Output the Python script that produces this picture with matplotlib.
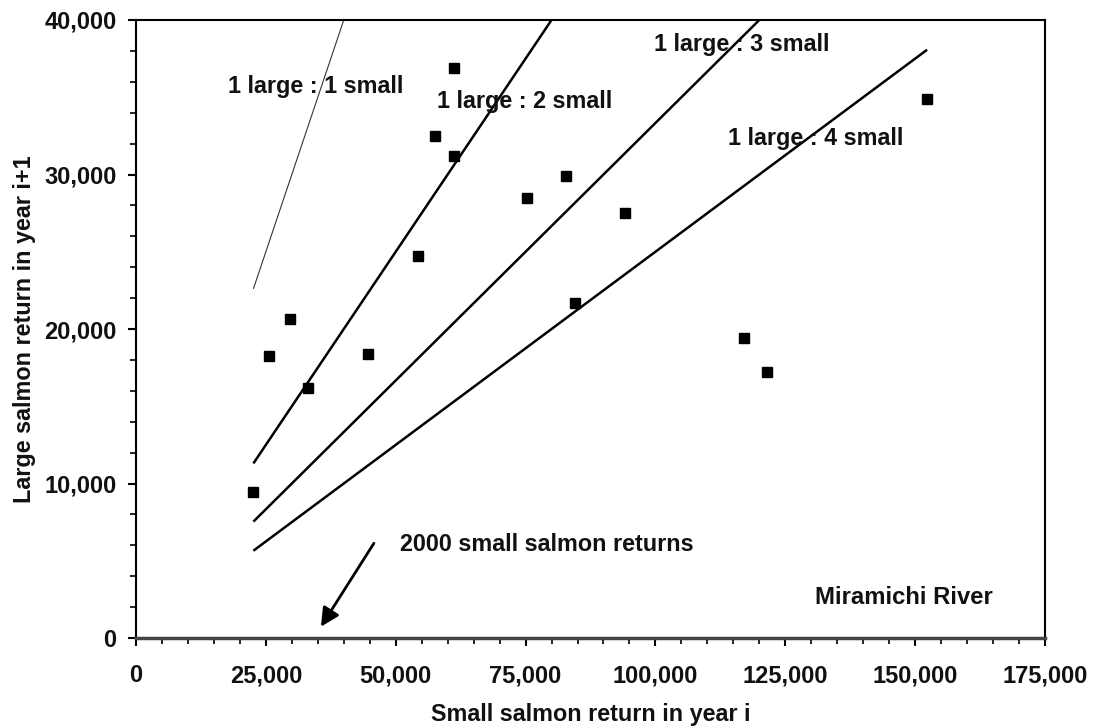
import matplotlib
matplotlib.use("Agg")
import matplotlib.pyplot as plt
import matplotlib.ticker as mticker
import numpy as np

# small salmon return in year i vs large salmon return in year i+1
small = [22600, 25600, 29700, 33200, 44600, 54300, 57500, 61200, 61300,
         75200, 82800, 84500, 94200, 117000, 121500, 152300]
large = [9450, 18250, 20650, 16200, 18350, 24750, 32500, 31200, 36900,
         28500, 29900, 21700, 27500, 19400, 17200, 34900]

ratios = [1, 2, 3, 4]
ratio_labels = ["1 large : 1 small", "1 large : 2 small",
                "1 large : 3 small", "1 large : 4 small"]
label_pos = [(17700, 35700), (57900, 34700), (99700, 38400), (114000, 32300)]

plt.rcParams['font.family'] = ['Liberation Sans', 'DejaVu Sans']
plt.rcParams['font.weight'] = 'bold'

fig = plt.figure(figsize=(10.93, 7.26), dpi=100)
ax = fig.add_axes([136 / 1093, 88 / 726, 909 / 1093, 618 / 726])

xs = np.array([min(small), max(small)])
for n in ratios:
    lw = 0.8 if n == 1 else 1.8
    col = '#333333' if n == 1 else 'black'
    ax.plot(xs, xs / n, color=col, lw=lw, solid_capstyle='butt')

ax.plot(small, large, 's', color='black', markersize=7, zorder=5)

for txt, (tx, ty) in zip(ratio_labels, label_pos):
    ax.text(tx, ty, txt, fontsize=16.8, fontweight='bold', color='#111111',
            ha='left', va='center')

ax.annotate('', xy=(35600, 730), xytext=(45800, 6130),
            arrowprops=dict(arrowstyle='-|>', lw=2, color='black',
                            mutation_scale=28, shrinkA=0, shrinkB=0))
ax.text(50800, 6020, "2000 small salmon returns", fontsize=16.8,
        fontweight='bold', color='#111111', ha='left', va='center')
ax.text(130800, 2630, "Miramichi River", fontsize=17.2,
        fontweight='bold', color='#111111', ha='left', va='center')

ax.set_xlim(0, 175000)
ax.set_ylim(0, 40000)
ax.xaxis.set_major_locator(mticker.MultipleLocator(25000))
ax.xaxis.set_minor_locator(mticker.MultipleLocator(5000))
ax.yaxis.set_major_locator(mticker.MultipleLocator(10000))
ax.yaxis.set_minor_locator(mticker.MultipleLocator(2000))
fmt = mticker.FuncFormatter(lambda v, p: f"{int(v):,}")
ax.xaxis.set_major_formatter(fmt)
ax.yaxis.set_major_formatter(fmt)

ax.tick_params(which='major', direction='out', length=6, width=1.5,
               labelsize=17, colors='black')
ax.tick_params(axis='x', which='major', pad=13)
ax.tick_params(axis='y', which='major', pad=8)
ax.tick_params(which='minor', direction='out', length=4, width=1.2)
for lab in ax.get_xticklabels() + ax.get_yticklabels():
    lab.set_fontweight('bold')
    lab.set_color('#111111')

for side in ['top', 'right', 'left']:
    ax.spines[side].set_linewidth(1.5)
ax.spines['bottom'].set_linewidth(2.5)
ax.spines['bottom'].set_color('#444444')

ax.set_xlabel("Small salmon return in year i", fontsize=16.8,
              fontweight='bold', color='#111111', labelpad=11)
ax.set_ylabel("Large salmon return in year i+1", fontsize=16.8,
              fontweight='bold', color='#111111', labelpad=6)

fig.savefig("out.png", dpi=100)
